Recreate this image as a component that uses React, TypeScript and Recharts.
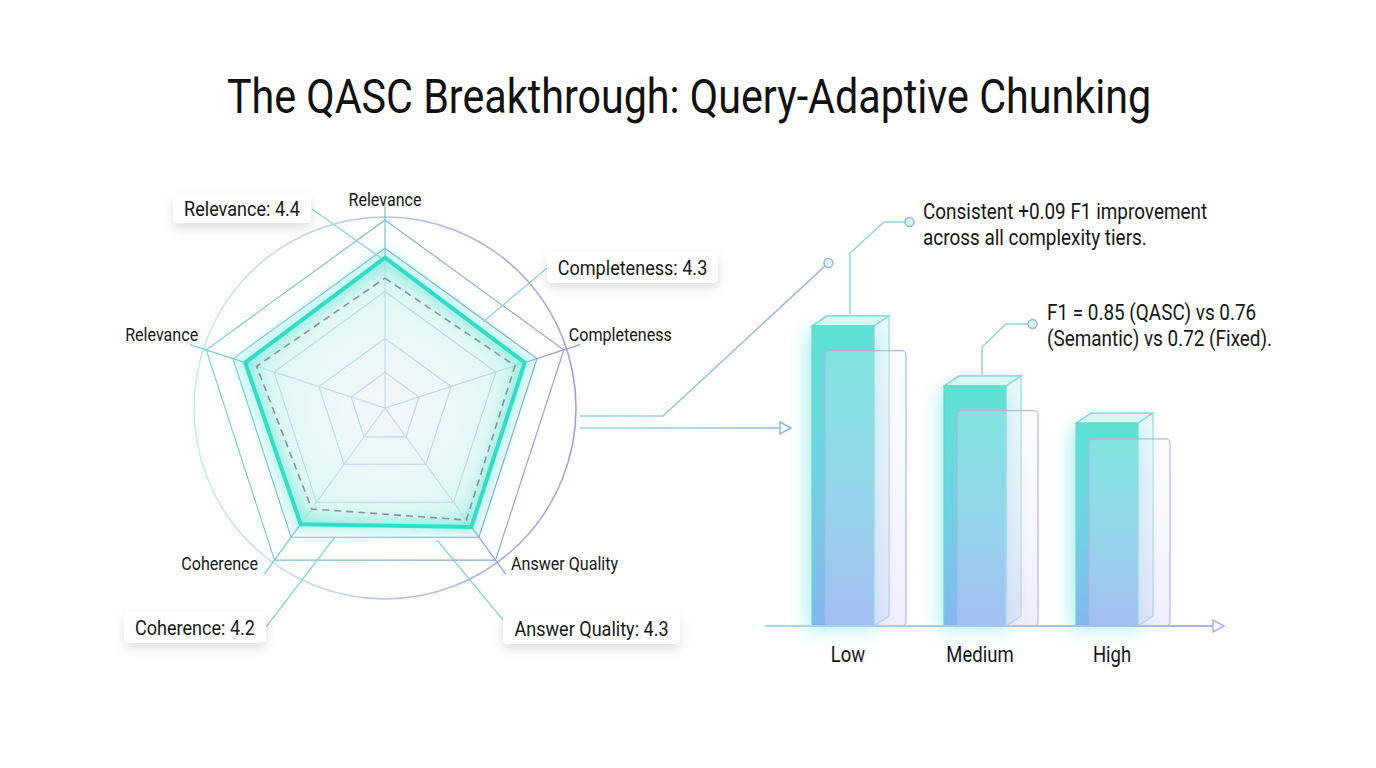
import React from 'react';
import {
  RadarChart,
  PolarGrid,
  PolarAngleAxis,
  PolarRadiusAxis,
  Radar,
  BarChart,
  Bar,
  XAxis,
  YAxis,
} from 'recharts';

// ---------- data ----------
const radarKeys = ['rel', 'comp', 'aq', 'coh', 'rel2'];
const radarLabels = ['Relevance', 'Completeness', 'Answer Quality', 'Coherence', 'Relevance'];
const qascScores = [4.4, 4.3, 4.3, 4.2, 4.3];
const baselineScores = [3.8, 4.0, 4.05, 3.65, 3.95];
const radarAxisMax = 6; // scale domain of the radius axis
const radarRingMax = 5.5; // value at the outermost drawn pentagon
const gridLevels = [0.19, 0.37, 0.62, 0.85, 1.0];

const tiers = ['Low', 'Medium', 'High'];
const qascF1 = [0.85, 0.68, 0.575];
const semanticF1 = [0.78, 0.61, 0.53];

const calloutTexts = ['Relevance: 4.4', 'Completeness: 4.3', 'Coherence: 4.2', 'Answer Quality: 4.3'];
const noteLow = ['Consistent +0.09 F1 improvement', 'across all complexity tiers.'];
const noteMed = ['F1 = 0.85 (QASC) vs 0.76', '(Semantic) vs 0.72 (Fixed).'];
const titleText = 'The QASC Breakthrough: Query-Adaptive Chunking';

const radarData = radarKeys.map((k, i) => ({ key: k, qasc: qascScores[i], baseline: baselineScores[i] }));
const barData = tiers.map((t, i) => ({ tier: t, qasc: qascF1[i], semantic: semanticF1[i] }));

// ---------- layout ----------
const W = 1376;
const H = 768;
const CX = 385;
const CY = 408;
const R = 188; // radius of outer pentagon (value radarRingMax)
const SCALE_R = (R * radarAxisMax) / radarRingMax;
const FONT = "Roboto, 'Noto Sans', 'DejaVu Sans', sans-serif";

const CText = ({ x, y, anchor = 'start', size, children, fill = '#161616', sx = 0.86 }: any) => (
  <text
    transform={`translate(${x} ${y}) scale(${sx} 1)`}
    textAnchor={anchor}
    fontSize={size}
    fontFamily={FONT}
    fill={fill}
  >
    {children}
  </text>
);

// label placement relative to each radar vertex
const labelOffsets: [number, number, string][] = [
  [0, -14.5, 'middle'],
  [5, -9, 'start'],
  [15.5, 9.5, 'start'],
  [-16.5, 9.5, 'end'],
  [-8, -9, 'end'],
];

const AngleTick = (props: any) => {
  const { payload } = props;
  const i = radarKeys.indexOf(payload.value);
  if (i < 0) return null;
  const a = ((90 - i * 72) * Math.PI) / 180;
  const vx = CX + R * Math.cos(a);
  const vy = CY - R * Math.sin(a);
  const [dx, dy, anchor] = labelOffsets[i];
  return (
    <CText x={vx + dx} y={vy + dy} anchor={anchor} size={18.5} sx={0.87}>
      {radarLabels[i]}
    </CText>
  );
};

const EmptyTick = () => <g />;

const QascShape = (props: any) => {
  const pts = (props.points || []).map((p: any) => `${p.x},${p.y}`).join(' ');
  return (
    <g>
      <polygon points={pts} fill="url(#radarFill)" stroke="none" />
      <polygon
        points={pts}
        fill="none"
        stroke="#3fe3cf"
        strokeWidth={16}
        strokeOpacity={0.35}
        filter="url(#softBlur)"
      />
      <polygon points={pts} fill="none" stroke="#34dcc6" strokeWidth={4} strokeLinejoin="round" />
    </g>
  );
};

const BaselineShape = (props: any) => {
  const pts = (props.points || []).map((p: any) => `${p.x},${p.y}`).join(' ');
  return (
    <polygon
      points={pts}
      fill="none"
      stroke="#8c9097"
      strokeWidth={1.6}
      strokeDasharray="7 5"
    />
  );
};

const FrontBar = (props: any) => {
  const { x, y, width, height } = props;
  if (!height || height <= 0) return null;
  const d = 15;
  const e = 10;
  return (
    <g>
      <rect x={x - 6} y={y + 4} width={width + 10} height={height} fill="#52e0dc" opacity={0.45} filter="url(#barGlow)" />
      <rect x={x} y={y} width={width} height={height} fill="url(#frontGrad)" stroke="#62d9cf" strokeWidth={1.2} />
      <polygon
        points={`${x},${y} ${x + d},${y - e} ${x + width + d},${y - e} ${x + width},${y}`}
        fill="#b9f2ea"
        fillOpacity={0.55}
        stroke="#62d9cf"
        strokeWidth={1.2}
      />
      <polygon
        points={`${x + width},${y} ${x + width + d},${y - e} ${x + width + d},${y + height - e} ${x + width},${y + height}`}
        fill="url(#sideGrad)"
        stroke="#8fd6e0"
        strokeWidth={1.1}
      />
    </g>
  );
};

const BackBar = (props: any) => {
  const { x, y, width, height } = props;
  if (!height || height <= 0) return null;
  return (
    <rect
      x={x}
      y={y}
      width={width}
      height={height}
      rx={4}
      ry={4}
      fill="url(#backGrad)"
      stroke="#a7b4e2"
      strokeWidth={1.2}
      strokeOpacity={0.9}
    />
  );
};

const TierTick = (props: any) => {
  const { x, y, payload } = props;
  return (
    <CText x={x - 11} y={y + 28} anchor="middle" size={21.5}>
      {payload.value}
    </CText>
  );
};

const Callout = ({ x, y, w, h, text }: any) => (
  <g>
    <rect x={x} y={y} width={w} height={h} rx={5} ry={5} fill="#ffffff" filter="url(#cardShadow)" />
    <CText x={x + w / 2} y={y + h / 2 + 7.5} anchor="middle" size={21}>
      {text}
    </CText>
  </g>
);

export default function App() {
  return (
    <div
      style={{
        position: 'absolute',
        left: 0,
        top: 0,
        width: W,
        height: H,
        background: '#ffffff',
        overflow: 'hidden',
      }}
    >
      <svg width={0} height={0} style={{ position: 'absolute' }}>
        <defs>
          <linearGradient id="gridGrad" gradientUnits="userSpaceOnUse" x1={200} y1={0} x2={575} y2={0}>
            <stop offset="0%" stopColor="#6fcfd3" />
            <stop offset="100%" stopColor="#8f95d2" />
          </linearGradient>
          <linearGradient id="circleGrad" gradientUnits="userSpaceOnUse" x1={195} y1={0} x2={580} y2={0}>
            <stop offset="0%" stopColor="#c6ecef" />
            <stop offset="100%" stopColor="#a69ddc" />
          </linearGradient>
          <radialGradient id="radarFill" cx="50%" cy="55%" r="55%">
            <stop offset="0%" stopColor="#eef0fb" stopOpacity={0.6} />
            <stop offset="70%" stopColor="#d3f4f0" stopOpacity={0.65} />
            <stop offset="100%" stopColor="#b7efe8" stopOpacity={0.8} />
          </radialGradient>
          <linearGradient id="frontGrad" x1="0" y1="0" x2="0" y2="1">
            <stop offset="0%" stopColor="#5fe2d3" />
            <stop offset="50%" stopColor="#70d3e3" />
            <stop offset="100%" stopColor="#84b5ee" />
          </linearGradient>
          <linearGradient id="sideGrad" x1="0" y1="0" x2="0" y2="1">
            <stop offset="0%" stopColor="#c5f0f0" stopOpacity={0.35} />
            <stop offset="100%" stopColor="#c9cdf3" stopOpacity={0.35} />
          </linearGradient>
          <linearGradient id="backGrad" x1="0" y1="0" x2="0" y2="1">
            <stop offset="0%" stopColor="#eef4fc" stopOpacity={0.22} />
            <stop offset="100%" stopColor="#d6cff7" stopOpacity={0.38} />
          </linearGradient>
          <linearGradient id="axisGrad" gradientUnits="userSpaceOnUse" x1={765} y1={0} x2={1225} y2={0}>
            <stop offset="0%" stopColor="#9fdce6" />
            <stop offset="100%" stopColor="#a9b3e6" />
          </linearGradient>
          <linearGradient id="linkGrad" gradientUnits="userSpaceOnUse" x1={580} y1={0} x2={830} y2={0}>
            <stop offset="0%" stopColor="#8ed8e0" />
            <stop offset="100%" stopColor="#9fb0dc" />
          </linearGradient>
          <filter id="softBlur" x="-20%" y="-20%" width="140%" height="140%">
            <feGaussianBlur stdDeviation="6" />
          </filter>
          <filter id="barGlow" x="-60%" y="-20%" width="220%" height="140%">
            <feGaussianBlur stdDeviation="9" />
          </filter>
          <filter id="cardShadow" x="-20%" y="-40%" width="140%" height="200%">
            <feDropShadow dx="0" dy="5" stdDeviation="6" floodColor="#000000" floodOpacity="0.13" />
          </filter>
        </defs>
      </svg>

      {/* Title */}
      <svg width={W} height={150} style={{ position: 'absolute', left: 0, top: 0 }}>
        <CText x={689} y={113} anchor="middle" size={49} sx={0.842} fill="#111111">
          {titleText}
        </CText>
      </svg>

      {/* Radar chart */}
      <div style={{ position: 'absolute', left: 0, top: 0 }}>
        <RadarChart
          width={760}
          height={H}
          data={radarData}
          cx={CX}
          cy={CY}
          outerRadius={SCALE_R}
          margin={{ top: 0, right: 0, bottom: 0, left: 0 }}
        >
          <PolarGrid
            gridType="circle"
            radialLines={false}
            polarRadius={[R + 3]}
            stroke="url(#circleGrad)"
            strokeWidth={1.6}
          />
          <PolarGrid
            gridType="polygon"
            outerRadius={R}
            polarRadius={gridLevels.map((g) => g * R)}
            stroke="url(#gridGrad)"
            strokeWidth={1.1}
            strokeOpacity={1}
          />
          <PolarAngleAxis dataKey="key" tick={<AngleTick />} tickLine={false} axisLine={false} />
          <PolarRadiusAxis
            domain={[0, radarAxisMax]}
            tick={<EmptyTick />}
            axisLine={false}
            tickLine={false}
            angle={90}
          />
          <Radar dataKey="qasc" shape={<QascShape />} isAnimationActive={false} dot={false} />
          <Radar dataKey="baseline" shape={<BaselineShape />} isAnimationActive={false} dot={false} />
        </RadarChart>
      </div>

      {/* Bar chart */}
      <div style={{ position: 'absolute', left: 0, top: 0 }}>
        <BarChart
          width={W}
          height={H}
          data={barData}
          margin={{ top: 273, right: 187, bottom: 112, left: 793 }}
          barGap={-49}
          barCategoryGap={0}
        >
          <XAxis dataKey="tier" axisLine={false} tickLine={false} tick={<TierTick />} height={30} interval={0} />
          <YAxis hide width={0} domain={[0, 1]} />
          <Bar dataKey="qasc" barSize={62} shape={<FrontBar />} isAnimationActive={false} />
          <Bar dataKey="semantic" barSize={81} shape={<BackBar />} isAnimationActive={false} />
        </BarChart>
      </div>

      {/* Annotations overlay */}
      <svg width={W} height={H} style={{ position: 'absolute', left: 0, top: 0, pointerEvents: 'none' }}>
        {/* bar axis with arrow */}
        <line x1={765} y1={626} x2={1214} y2={626} stroke="url(#axisGrad)" strokeWidth={2} />
        <polygon points="1213,620 1224,626 1213,632" fill="#ffffff" stroke="#a9b3e6" strokeWidth={1.5} />

        {/* links from radar to bars */}
        <polyline points="580,416 663,416 825,266" fill="none" stroke="url(#linkGrad)" strokeWidth={1.6} />
        <circle cx={828.5} cy={263} r={4.5} fill="#e4f3fa" stroke="#9cb6db" strokeWidth={1.5} />
        <line x1={580} y1={428} x2={781} y2={428} stroke="url(#linkGrad)" strokeWidth={1.6} />
        <polygon points="780,422 791,428 780,434" fill="#ffffff" stroke="#8fb8dc" strokeWidth={1.5} />

        {/* radar callouts */}
        <g stroke="#8fd2dc" strokeWidth={1.3} fill="none">
          <line x1={312} y1={209} x2={381} y2={258} />
          <line x1={547} y1={268} x2={483} y2={322} />
          <line x1={266} y1={627} x2={335} y2={537} />
          <line x1={503} y1={620} x2={437} y2={540} />
        </g>
        <Callout x={173} y={194} w={138} h={29} text={calloutTexts[0]} />
        <Callout x={547} y={252} w={171} h={31} text={calloutTexts[1]} />
        <Callout x={124} y={612} w={142} h={31} text={calloutTexts[2]} />
        <Callout x={503} y={613} w={177} h={31} text={calloutTexts[3]} />

        {/* bar notes */}
        <polyline points="850,314 850,253 884,222 905,222" fill="none" stroke="#93d3df" strokeWidth={1.5} />
        <circle cx={909.5} cy={222} r={4.5} fill="#dcf0f8" stroke="#8fbadb" strokeWidth={1.5} />
        <CText x={923} y={219} size={22}>{noteLow[0]}</CText>
        <CText x={923} y={245} size={22}>{noteLow[1]}</CText>

        <polyline points="982,375 982,347 1006,324 1028,324" fill="none" stroke="#93d3df" strokeWidth={1.5} />
        <circle cx={1032.5} cy={324} r={4.5} fill="#dcf0f8" stroke="#8fbadb" strokeWidth={1.5} />
        <CText x={1047} y={320} size={22}>{noteMed[0]}</CText>
        <CText x={1047} y={346} size={22}>{noteMed[1]}</CText>
      </svg>
    </div>
  );
}
